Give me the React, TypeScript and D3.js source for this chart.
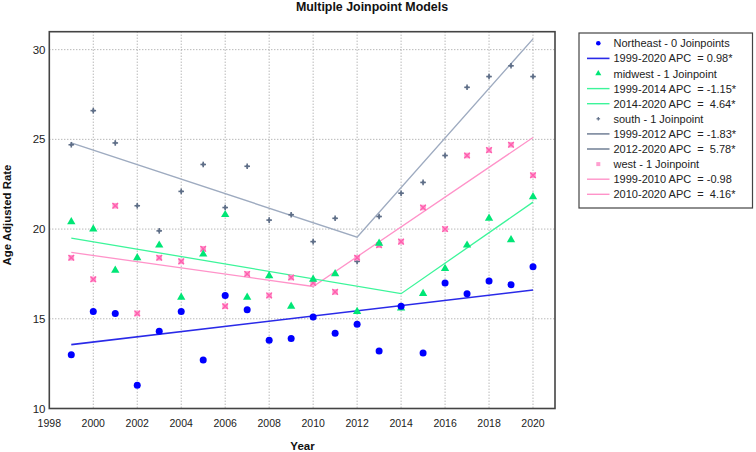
import React from "react";
import * as d3 from "d3";

const years = [1999,2000,2001,2002,2003,2004,2005,2006,2007,2008,2009,2010,2011,2012,2013,2014,2015,2016,2017,2018,2019,2020];
const northeast = [13.0,15.4,15.3,11.3,14.3,15.4,12.7,16.3,15.5,13.8,13.9,15.1,14.2,14.7,13.2,15.7,13.1,17.0,16.4,17.1,16.9,17.9];
const midwest = [20.4,20.0,17.7,18.4,19.1,16.2,18.6,20.8,16.2,17.4,15.7,17.2,17.5,15.4,19.2,15.6,16.4,17.8,19.1,20.6,19.4,21.8];
const south = [24.7,26.6,24.8,21.3,19.9,22.1,23.6,21.2,23.5,20.5,20.8,19.3,20.6,18.2,20.7,22.0,22.6,24.1,27.9,28.5,29.1,28.5];
const west = [18.4,17.2,21.3,15.3,18.4,18.2,18.9,15.7,17.5,16.3,17.3,17.0,16.5,18.4,19.1,19.3,21.2,20.0,24.1,24.4,24.7,23.0];

const neFitYears = [1999, 2020];
const neFit = [13.56, 16.6];
const mwFitYears = [1999, 2014, 2020];
const mwFit = [19.5, 16.4, 21.5];
const soFitYears = [1999, 2012, 2020];
const soFit = [24.8, 19.55, 30.6];
const weFitYears = [1999, 2010, 2020];
const weFit = [18.7, 16.8, 25.1];

const xTicks = [1998,2000,2002,2004,2006,2008,2010,2012,2014,2016,2018,2020];
const yTicks = [10,15,20,25,30];

const legendLabels = [
  "Northeast - 0 Joinpoints",
  "1999-2020 APC  = 0.98*",
  "midwest - 1 Joinpoint",
  "1999-2014 APC  = -1.15*",
  "2014-2020 APC  =  4.64*",
  "south - 1 Joinpoint",
  "1999-2012 APC  = -1.83*",
  "2012-2020 APC  =  5.78*",
  "west - 1 Joinpoint",
  "1999-2010 APC  = -0.98",
  "2010-2020 APC  =  4.16*",
];

const C = {
  ne: "#0000ff", neLine: "#2a2ae8",
  mw: "#00e676", mwLine: "#3cf59a",
  so: "#5f6f88", soLine: "#9eabc0",
  we: "#ff5fae", weLine: "#ff93c9",
};

const W = 756, H = 452;
const L = 49.3, R = 555, T = 31.7, B = 408.5;

export default function App() {
  const x = d3.scaleLinear().domain([1998, 2021]).range([L, R]);
  const y = d3.scaleLinear().domain([10, 31]).range([B, T]);
  const line = (ys: number[], vs: number[]) =>
    d3.line<number>().x((_, i) => x(ys[i])).y((v) => y(v))(vs) || "";
  const tri = d3.symbol().type(d3.symbolTriangle).size(30)() || "";
  const triS = d3.symbol().type(d3.symbolTriangle).size(16)() || "";
  const font = "Liberation Sans, Arial, sans-serif";

  const marker = (kind: string, cx: number, cy: number, key: any, small = false) => {
    if (kind === "ne") return <circle key={key} cx={cx} cy={cy} r={small ? 2.3 : 3.5} fill={C.ne} />;
    if (kind === "mw") return <path key={key} d={small ? triS : tri} transform={`translate(${cx},${cy})`} fill={C.mw} />;
    if (kind === "so") {
      const s = small ? 1.8 : 2.8;
      return (
        <g key={key} stroke={C.so} strokeWidth={small ? 1.2 : 1.6}>
          <line x1={cx - s} x2={cx + s} y1={cy} y2={cy} />
          <line x1={cx} x2={cx} y1={cy - s} y2={cy + s} />
          {!small && <rect x={cx - 1.2} y={cy - 1.2} width={2.4} height={2.4} fill={C.so} stroke="none" />}
        </g>
      );
    }
    const s = small ? 2 : 2.8;
    return (
      <g key={key}>
        <rect x={cx - s} y={cy - s} width={2 * s} height={2 * s} fill="#ff9fd0" />
        {!small && (
          <g stroke={C.we} strokeWidth={1.3}>
            <line x1={cx - s} x2={cx + s} y1={cy - s} y2={cy + s} />
            <line x1={cx - s} x2={cx + s} y1={cy + s} y2={cy - s} />
          </g>
        )}
      </g>
    );
  };

  const legendRows: { kind: string; sym: boolean; color: string; w: number }[] = [
    { kind: "ne", sym: true, color: C.ne, w: 0 },
    { kind: "ne", sym: false, color: C.neLine, w: 1.6 },
    { kind: "mw", sym: true, color: C.mw, w: 0 },
    { kind: "mw", sym: false, color: C.mwLine, w: 1.4 },
    { kind: "mw", sym: false, color: C.mwLine, w: 1.4 },
    { kind: "so", sym: true, color: C.so, w: 0 },
    { kind: "so", sym: false, color: "#7a879c", w: 1.6 },
    { kind: "so", sym: false, color: "#7a879c", w: 1.6 },
    { kind: "we", sym: true, color: C.we, w: 0 },
    { kind: "we", sym: false, color: C.weLine, w: 1.4 },
    { kind: "we", sym: false, color: C.weLine, w: 1.4 },
  ];

  return (
    <svg width={W} height={H} style={{ position: "absolute", left: 0, top: 0, background: "#fff" }} fontFamily={font}>
      <rect x={0} y={0} width={W} height={H} fill="#fff" />
      <text x={372} y={11} textAnchor="middle" fontWeight="bold" fontSize={12.4} fill="#111">Multiple Joinpoint Models</text>

      {/* grid */}
      {xTicks.filter((t) => t > 1998).map((t) => (
        <line key={"gx" + t} x1={x(t)} x2={x(t)} y1={T} y2={B} stroke="#999" strokeWidth={1} strokeDasharray="1,2" />
      ))}
      {yTicks.filter((t) => t > 10).map((t) => (
        <line key={"gy" + t} x1={L} x2={R} y1={y(t)} y2={y(t)} stroke="#999" strokeWidth={1} strokeDasharray="1,2" />
      ))}

      {/* fit lines */}
      <path d={line(soFitYears, soFit)} fill="none" stroke={C.soLine} strokeWidth={1.4} />
      <path d={line(weFitYears, weFit)} fill="none" stroke={C.weLine} strokeWidth={1.3} />
      <path d={line(mwFitYears, mwFit)} fill="none" stroke={C.mwLine} strokeWidth={1.3} />
      <path d={line(neFitYears, neFit)} fill="none" stroke={C.neLine} strokeWidth={1.6} />

      {/* markers */}
      {years.map((yr, i) => marker("so", x(yr), y(south[i]), "s" + i))}
      {years.map((yr, i) => marker("we", x(yr), y(west[i]), "w" + i))}
      {years.map((yr, i) => marker("mw", x(yr), y(midwest[i]), "m" + i))}
      {years.map((yr, i) => marker("ne", x(yr), y(northeast[i]), "n" + i))}

      {/* frame */}
      <rect x={L} y={T} width={R - L} height={B - T} fill="none" stroke="#444" strokeWidth={1.6} />

      {/* ticks labels */}
      {xTicks.map((t) => (
        <text key={"xt" + t} x={x(t)} y={427} textAnchor="middle" fontSize={10.5} fill="#222">{t}</text>
      ))}
      {yTicks.map((t) => (
        <text key={"yt" + t} x={45.5} y={y(t) + 4} textAnchor="end" fontSize={11.5} fill="#222">{t}</text>
      ))}

      <text x={302.5} y={450} textAnchor="middle" fontWeight="bold" fontSize={11.5} fill="#111">Year</text>
      <text transform={`translate(11,215) rotate(-90)`} textAnchor="middle" fontWeight="bold" fontSize={11.4} fill="#111">Age Adjusted Rate</text>

      {/* legend */}
      <rect x={579} y={33} width={173.5} height={175} fill="#fff" stroke="#444" strokeWidth={1.2} />
      {legendRows.map((r, i) => {
        const cy = 43.3 + i * 15.1;
        return (
          <g key={"lg" + i}>
            {r.sym ? marker(r.kind, 598.3, cy, "lm" + i, true) : (
              <line x1={587} x2={609.5} y1={cy} y2={cy} stroke={r.color} strokeWidth={r.w} />
            )}
            <text x={613.5} y={cy + 4} fontSize={11} fill="#222" style={{ whiteSpace: "pre" }}>{legendLabels[i]}</text>
          </g>
        );
      })}
    </svg>
  );
}
